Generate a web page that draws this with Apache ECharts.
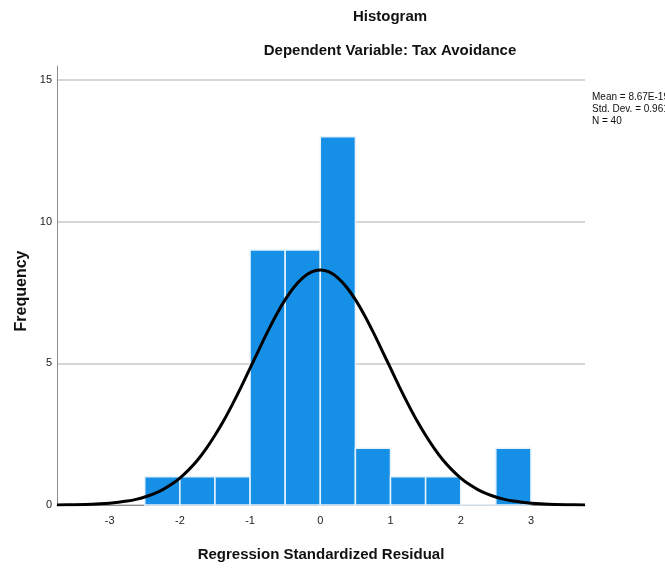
<!DOCTYPE html>
<html>
<head>
<meta charset="utf-8">
<script src="https://cdn.jsdelivr.net/npm/echarts@6/dist/echarts.min.js"></script>
<style>
  html, body { margin: 0; padding: 0; background: #fff; }
  #chart { width: 665px; height: 568px; }
</style>
</head>
<body>
<div id="chart"></div>
<script>
// histogram bins (width 0.5) and counts
var binStarts = [-2.5, -2.0, -1.5, -1.0, -0.5, 0.0, 0.5, 1.0, 1.5, 2.0, 2.5];
var binWidth = 0.5;
var counts = [1, 1, 1, 9, 9, 13, 2, 1, 1, 0, 2];

// normal curve
var curveX = [-3.75, -3.5, -3.25, -3.0, -2.875, -2.75, -2.625, -2.5, -2.375, -2.25, -2.125, -2.0, -1.875,
  -1.75, -1.625, -1.5, -1.375, -1.25, -1.125, -1.0, -0.875, -0.75, -0.625, -0.5, -0.375, -0.25, -0.125,
  0, 0.125, 0.25, 0.375, 0.5, 0.625, 0.75, 0.875, 1.0, 1.125, 1.25, 1.375, 1.5, 1.625, 1.75, 1.875,
  2.0, 2.125, 2.25, 2.375, 2.5, 2.625, 2.75, 2.875, 3.0, 3.25, 3.5, 3.77];
var curveY = [0.004, 0.011, 0.027, 0.064, 0.095, 0.138, 0.199, 0.281, 0.392, 0.535, 0.720, 0.952, 1.24,
  1.58, 1.99, 2.46, 2.98, 3.56, 4.18, 4.83, 5.48, 6.12, 6.72, 7.25, 7.69, 8.02, 8.23,
  8.30, 8.23, 8.02, 7.69, 7.25, 6.72, 6.12, 5.48, 4.83, 4.18, 3.56, 2.98, 2.46, 1.99, 1.58, 1.24,
  0.952, 0.720, 0.535, 0.392, 0.281, 0.199, 0.138, 0.095, 0.064, 0.027, 0.011, 0.004];

var xTicks = [-3, -2, -1, 0, 1, 2, 3];
var yTicks = [0, 5, 10, 15];
var statLines = ['Mean = 8.67E-19', 'Std. Dev. = 0.961', 'N = 40'];

var chart = echarts.init(document.getElementById('chart'), null, { renderer: 'canvas' });

var barData = binStarts.map(function(s, i) { return [s, s + binWidth, counts[i]]; });
var curveData = curveX.map(function(x, i) { return [x, curveY[i]]; });

var font = 'Liberation Sans, Arial, sans-serif';

chart.setOption({
  animation: false,
  backgroundColor: '#fff',
  title: [
    { text: 'Histogram', left: 385, top: 4, textAlign: 'center',
      textStyle: { fontFamily: font, fontSize: 15, fontWeight: 'bold', color: '#111' } },
    { text: 'Dependent Variable: Tax Avoidance', left: 385, top: 38, textAlign: 'center',
      textStyle: { fontFamily: font, fontSize: 15, fontWeight: 'bold', color: '#111' } }
  ],
  grid: { left: 57, right: 80, top: 66, bottom: 63 },
  xAxis: {
    type: 'value',
    min: -3.75,
    max: 3.77,
    name: 'Regression Standardized Residual',
    nameLocation: 'middle',
    nameGap: 42,
    nameTextStyle: { fontFamily: font, fontSize: 15, fontWeight: 'bold', color: '#111' },
    axisLine: { show: true, onZero: false, lineStyle: { color: '#8c8c8c', width: 1 } },
    axisTick: { show: false, customValues: xTicks },
    axisLabel: { customValues: xTicks, color: '#222', fontFamily: font, fontSize: 11, margin: 10 },
    splitLine: { show: false }
  },
  yAxis: {
    type: 'value',
    min: 0,
    max: 15.5,
    axisLine: { show: true, onZero: false, lineStyle: { color: '#8c8c8c', width: 1 } },
    axisTick: { show: false, customValues: yTicks },
    axisLabel: { customValues: yTicks, color: '#222', fontFamily: font, fontSize: 11, margin: 5 },
    splitLine: { show: true, lineStyle: { color: '#c8c8c8', width: 1.5 } }
  },
  graphic: [{
    type: 'text', x: 22, y: 291, rotation: Math.PI / 2,
    style: { text: 'Frequency', fontFamily: font, fontSize: 16, fontWeight: 'bold', fill: '#111',
      align: 'center', verticalAlign: 'middle' }
  }].concat(statLines.map(function(t, i) {
    return {
      type: 'text', left: 592, top: 92 + i * 12,
      style: { text: t, fontFamily: font, fontSize: 10, fill: '#111' }
    };
  })),
  series: [
    {
      type: 'custom',
      data: barData,
      encode: { x: [0, 1], y: 2 },
      renderItem: function(params, api) {
        var p0 = api.coord([api.value(0), api.value(2)]);
        var p1 = api.coord([api.value(1), 0]);
        return {
          type: 'rect',
          shape: { x: p0[0], y: p0[1], width: p1[0] - p0[0], height: p1[1] - p0[1] },
          style: { fill: '#1590e6', stroke: '#e6f3fd', lineWidth: 1.5 }
        };
      },
      z: 2
    },
    {
      type: 'line',
      data: curveData,
      smooth: 0.3,
      showSymbol: false,
      lineStyle: { color: '#000', width: 3 },
      z: 3
    }
  ]
});
</script>
</body>
</html>
